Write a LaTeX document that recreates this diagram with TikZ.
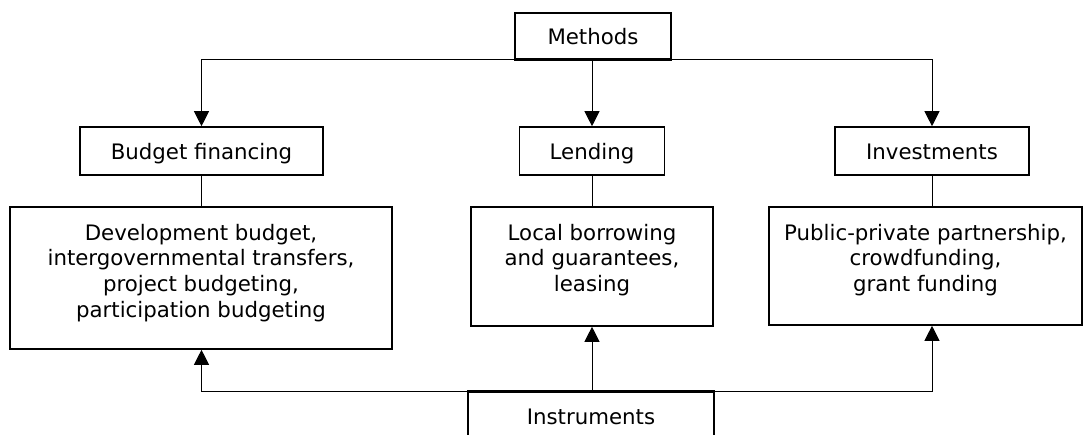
\documentclass[tikz,border=0pt]{standalone}
\usepackage{fontspec}
\setmainfont{DejaVu Sans}
\usetikzlibrary{arrows.meta}
\begin{document}
\begin{tikzpicture}[x=1pt,y=-1pt,
  font=\fontsize{21.3}{25.7}\selectfont,
  smallbox/.style={draw, line width=1.6pt, inner sep=0pt, minimum height=48pt, text height=17pt, text depth=0pt},
  bigbox/.style={draw, line width=1.6pt, inner sep=0pt},
  bigtext/.style={anchor=north, align=center, inner sep=0pt},
  conn/.style={line width=1pt},
  arr/.style={line width=1pt, -{Triangle[length=15pt,width=15pt]}}]
\useasboundingbox (0,0) rectangle (1083,434);
\node[smallbox, minimum width=156pt, minimum height=46pt, fill=white] (methods) at (593,36) {Methods};
\node[smallbox, minimum width=243pt] (bf) at (201.5,151) {Budget financing};
\node[smallbox, minimum width=145pt] (lend) at (592,151) {Lending};
\node[smallbox, minimum width=194pt] (inv) at (932,151) {Investments};
\node[bigbox, minimum width=382pt, minimum height=142pt] (bb) at (201,278) {};
\node[bigbox, minimum width=242pt, minimum height=119pt] (lb) at (592,266.5) {};
\node[bigbox, minimum width=313pt, minimum height=118pt] (ib) at (925.5,266) {};
\node[smallbox, minimum width=246pt] (instr) at (591,416) {Instruments};
\node[bigtext] (bbt) at (201,223.8) {Development budget,\\intergovernmental transfers,\\project budgeting,\\participation budgeting};
\node[bigtext] (lbt) at (592,223.8) {Local borrowing\\and guarantees,\\leasing};
\node[bigtext] (ibt) at (925.5,223.8) {Public-private partnership,\\crowdfunding,\\grant funding};
% top connectors
\draw[arr] (methods.south) -| (bf.north);
\draw[arr] (methods.south) -| (inv.north);
\draw[arr] (methods.south -| lend.north) -- (lend.north);
% middle connectors
\draw[conn] (bf.south) -- (bf.south |- bb.north);
\draw[conn] (lend.south) -- (lend.south |- lb.north);
\draw[conn] (inv.south) -- (inv.south |- ib.north);
% bottom connectors
\draw[arr] (instr.north) -| (bf.south |- bb.south);
\draw[arr] (instr.north) -| (inv.south |- ib.south);
\draw[arr] (instr.north -| lb.south) -- (lb.south);
% box borders on top of the connector lines
\draw[line width=1.6pt] (methods.south west) -- (methods.south east);
\draw[line width=1.6pt] (instr.north west) -- (instr.north east);
\end{tikzpicture}
\end{document}
